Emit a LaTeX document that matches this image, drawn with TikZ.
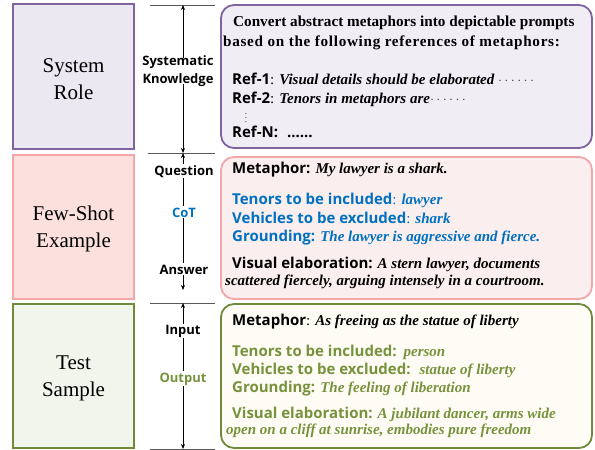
\documentclass[tikz,border=0pt]{standalone}
\usepackage{fontspec}
\setmainfont{Liberation Serif}
\newfontfamily\osans{Open Sans}
\usetikzlibrary{arrows.meta}
\definecolor{purpB}{HTML}{8064A2}
\definecolor{purpL}{HTML}{ECE8F2}
\definecolor{purpR}{HTML}{F0EDF5}
\definecolor{pinkB}{HTML}{F5A6A8}
\definecolor{pinkL}{HTML}{FCE0DD}
\definecolor{pinkR}{HTML}{FBEEEE}
\definecolor{grnB}{HTML}{6E8B3D}
\definecolor{grnL}{HTML}{F2F5EC}
\definecolor{grnR}{HTML}{FEFCF4}
\definecolor{txtblue}{HTML}{0070C0}
\definecolor{txtgrn}{HTML}{76923C}
\tikzset{
  leftbox/.style={line width=1.8pt},
  rightbox/.style={line width=1.8pt, rounded corners=13pt},
  lefttext/.style={align=center, font=\fontsize{21}{27}\selectfont, inner sep=0pt},
  midlabel/.style={font=\osans\bfseries\fontsize{13}{18}\selectfont, inner sep=1pt, align=center},
  tline/.style={anchor=base west, inner sep=0pt, font=\fontsize{15}{18}\selectfont},
  sepline/.style={draw=black!65, line width=0.7pt},
  midarrow/.style={draw=black, line width=0.7pt, -{Stealth[length=5pt,width=4pt]}},
  midline/.style={draw=black, line width=0.7pt}
}
\newcommand{\sbx}[1]{{\osans\bfseries #1}}
\newcommand{\bix}[1]{{\bfseries\itshape #1}}
\begin{document}
\begin{tikzpicture}[x=1pt,y=-1pt]
\useasboundingbox (0,0) rectangle (595,450);
% left boxes
\draw[leftbox, draw=purpB, fill=purpL] (13,4) rectangle (134,149);
\draw[leftbox, draw=pinkB, fill=pinkL] (13,155) rectangle (134,299);
\draw[leftbox, draw=grnB, fill=grnL] (13,304) rectangle (134,448);
\node[lefttext] (sysrole) at (73.5,79) {System\\Role};
\node[lefttext] (fewshot) at (73.5,229) {Few-Shot\\Example};
\node[lefttext] (testsmp) at (73.5,378) {Test\\Sample};
% right boxes
\draw[rightbox, draw=purpB, fill=purpR] (221,5) rectangle (592,148);
\draw[rightbox, draw=pinkB, fill=pinkR] (221,157) rectangle (592,299);
\draw[rightbox, draw=grnB, fill=grnR] (221,304) rectangle (592,448);
% separators
\coordinate (s1a) at (150,5);   \coordinate (s1b) at (215,5);
\coordinate (s2a) at (148,153); \coordinate (s2b) at (215,153);
\coordinate (s3a) at (150,303); \coordinate (s3b) at (215,303);
\coordinate (s4a) at (150,449); \coordinate (s4b) at (215,449);
\draw[sepline] (s1a) -- (s1b);
\draw[sepline] (s2a) -- (s2b);
\draw[sepline] (s3a) -- (s3b);
\draw[sepline] (s4a) -- (s4b);
% middle column
\coordinate (t1) at (183,5);
\coordinate (b1) at (183,153);
\coordinate (t2) at (183,153);
\coordinate (b2) at (183,290);
\coordinate (t3) at (183,303);
\coordinate (b3) at (183,449);
\node[midlabel] (sk) at (178,71) {Systematic\\Knowledge};
\draw[midarrow] ([yshift=-4pt]sk.north -| t1) -- (t1);
\draw[midarrow] ([yshift=4pt]sk.south -| b1) -- (b1);
\node[midlabel, anchor=base] (q) at (184,175) {Question};
\node[midlabel, anchor=base, text=txtblue] (cot) at (184,217) {CoT};
\node[midlabel, anchor=base] (ans) at (184,274) {Answer};
\draw[midarrow] (q.north -| t2) -- (t2);
\draw[midline] (q.south -| t2) -- (cot.north -| t2);
\draw[midline] (cot.south -| t2) -- (ans.north -| t2);
\draw[midarrow] (ans.south -| t2) -- (b2);
\node[midlabel, anchor=base] (inp) at (183,334) {Input};
\node[midlabel, anchor=base, text=txtgrn] (outp) at (183,382) {Output};
\draw[midarrow] (inp.north -| t3) -- (t3);
\draw[midline] (inp.south -| t3) -- (outp.north -| t3);
\draw[midarrow] (outp.south -| t3) -- (b3);
% system text
\node[tline] (cv1) at (233,26) {\bfseries\fontsize{15.2}{18}\selectfont Convert abstract metaphors into depictable prompts};
\node[tline] (cv2) at (223,46) {\bfseries\fontsize{15.2}{18}\selectfont\addfontfeature{LetterSpace=4.5}based on the following references of metaphors:};
\node[tline] (r1) at (232,84) {\sbx{Ref-1}: \bix{Visual details should be elaborated} {\color{black!70}$\cdots\cdots$}};
\node[tline] (r2) at (232,103) {\sbx{Ref-2}: \bix{Tenors in metaphors are}{\color{black!70}$\cdots\cdots$}};
\node[inner sep=0pt, text=black!80, font=\fontsize{9}{9}\selectfont] (vd) at (246,115) {$\vdots$};
\node[tline] (rn) at (232,137) {\sbx{Ref-N:\hspace{9pt}......}};
% few-shot text
\node[tline] (m1) at (232,173) {\sbx{Metaphor:} \bix{My lawyer is a shark.}};
\node[tline, text=txtblue] (tn1) at (232,204) {\sbx{Tenors to be included}: \bix{lawyer}};
\node[tline, text=txtblue] (vh1) at (232,223) {\sbx{Vehicles to be excluded}: \bix{shark}};
\node[tline, text=txtblue] (gr1) at (232,241) {\sbx{Grounding:} \bix{The lawyer is aggressive and fierce.}};
\node[tline] (ve1) at (232,268) {\sbx{Visual elaboration:} \bix{A stern lawyer, documents}};
\node[tline] (ve1b) at (225,285) {\bix{scattered fiercely, arguing intensely in a courtroom.}};
% test text
\node[tline] (m2) at (232,325) {\sbx{Metaphor}: \bix{As freeing as the statue of liberty}};
\node[tline, text=txtgrn] (tn2) at (232,356) {\sbx{Tenors to be included:}\hspace{7pt}\bix{person}};
\node[tline, text=txtgrn] (vh2) at (232,374) {\sbx{Vehicles to be excluded:}\hspace{9pt}\bix{statue of liberty}};
\node[tline, text=txtgrn] (gr2) at (232,392) {\sbx{Grounding:} \bix{The feeling of liberation}};
\node[tline, text=txtgrn] (ve2) at (232,418) {\sbx{Visual elaboration:} \bix{A jubilant dancer, arms wide}};
\node[tline, text=txtgrn] (ve2b) at (226,434) {\bix{open on a cliff at sunrise, embodies pure freedom}};
\end{tikzpicture}
\end{document}
